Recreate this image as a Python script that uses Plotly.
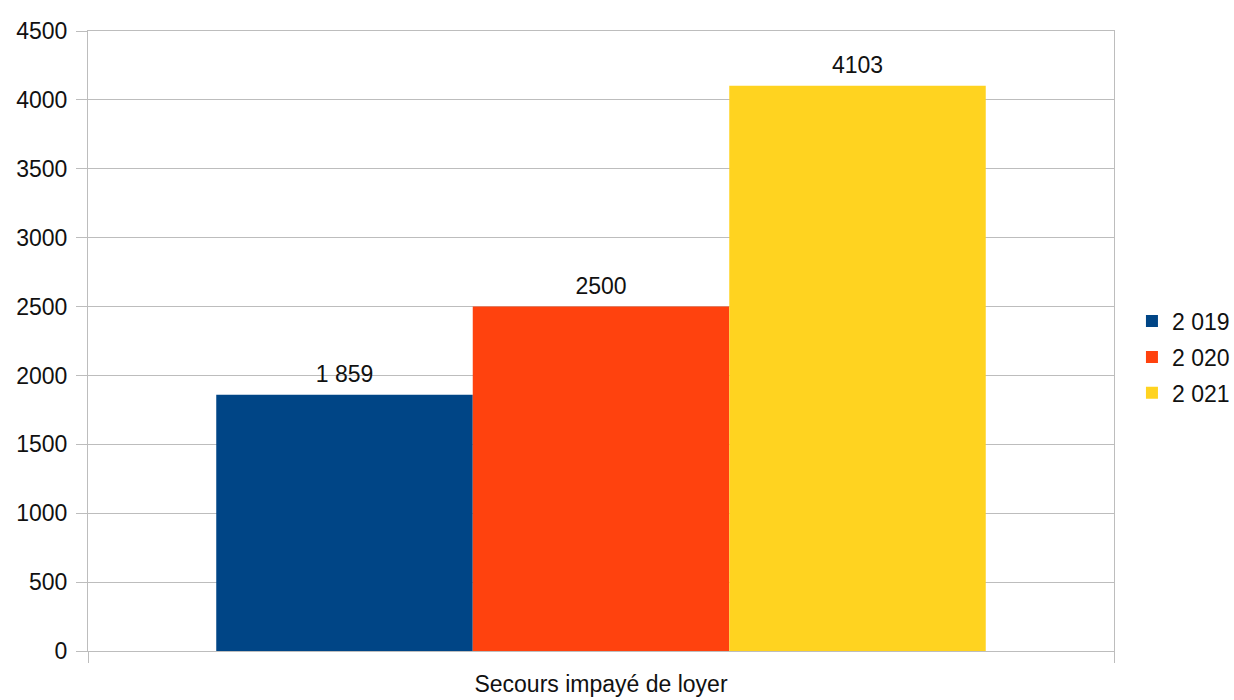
import plotly.graph_objects as go

category = ["Secours impayé de loyer"]
years = ["2 019", "2 020", "2 021"]
values = [1859, 2500, 4103]
value_labels = ["1 859", "2500", "4103"]
colors = ["#004586", "#ff420e", "#ffd320"]
y_ticks = [0, 500, 1000, 1500, 2000, 2500, 3000, 3500, 4000, 4500]

FONT = "Liberation Sans"
GRID = "#bdbdbd"
INK = "#111111"

fig = go.Figure()
for name, val, col in zip(years, values, colors):
    fig.add_trace(go.Bar(
        x=category, y=[val], name=name,
        marker=dict(color=col, line=dict(width=0)),
        legendgroup=name,
    ))

# value labels, grouped like the bars so each sits above its own bar
for name, val, lab in zip(years, values, value_labels):
    fig.add_trace(go.Scatter(
        x=category, y=[val], mode="markers+text",
        text=[lab], textposition="top center",
        marker=dict(size=10, opacity=0),
        textfont=dict(family=FONT, size=23, color=INK),
        showlegend=False, hoverinfo="skip", cliponaxis=False,
    ))

fig.update_layout(
    width=1234, height=700,
    margin=dict(l=88, r=120, t=31, b=49, autoexpand=False),
    paper_bgcolor="white", plot_bgcolor="white",
    barmode="group", bargap=0.25, bargroupgap=0,
    scattermode="group", scattergap=0.25,
    font=dict(family=FONT, size=23, color=INK),
    showlegend=True,
    legend=dict(x=1.0175, y=0.474, xanchor="left", yanchor="middle",
                font=dict(family=FONT, size=23, color=INK),
                traceorder="grouped", tracegroupgap=3,
                bgcolor="rgba(0,0,0,0)", borderwidth=0),
)
fig.update_yaxes(
    range=[0, 4500], tickvals=y_ticks, ticktext=[str(v) for v in y_ticks],
    showgrid=True, gridcolor=GRID, gridwidth=1,
    showline=True, linecolor=GRID, linewidth=1, mirror=True,
    ticks="outside", ticklen=11, tickcolor=GRID, tickwidth=1,
    zeroline=False, ticklabelstandoff=4,
)
fig.update_xaxes(
    type="category", showgrid=False,
    showline=True, linecolor=GRID, linewidth=1, mirror=True,
    ticks="outside", ticklen=11, tickcolor=GRID, tickwidth=1,
    tickson="boundaries", ticklabelstandoff=12,
)

fig.write_html("out.html")
